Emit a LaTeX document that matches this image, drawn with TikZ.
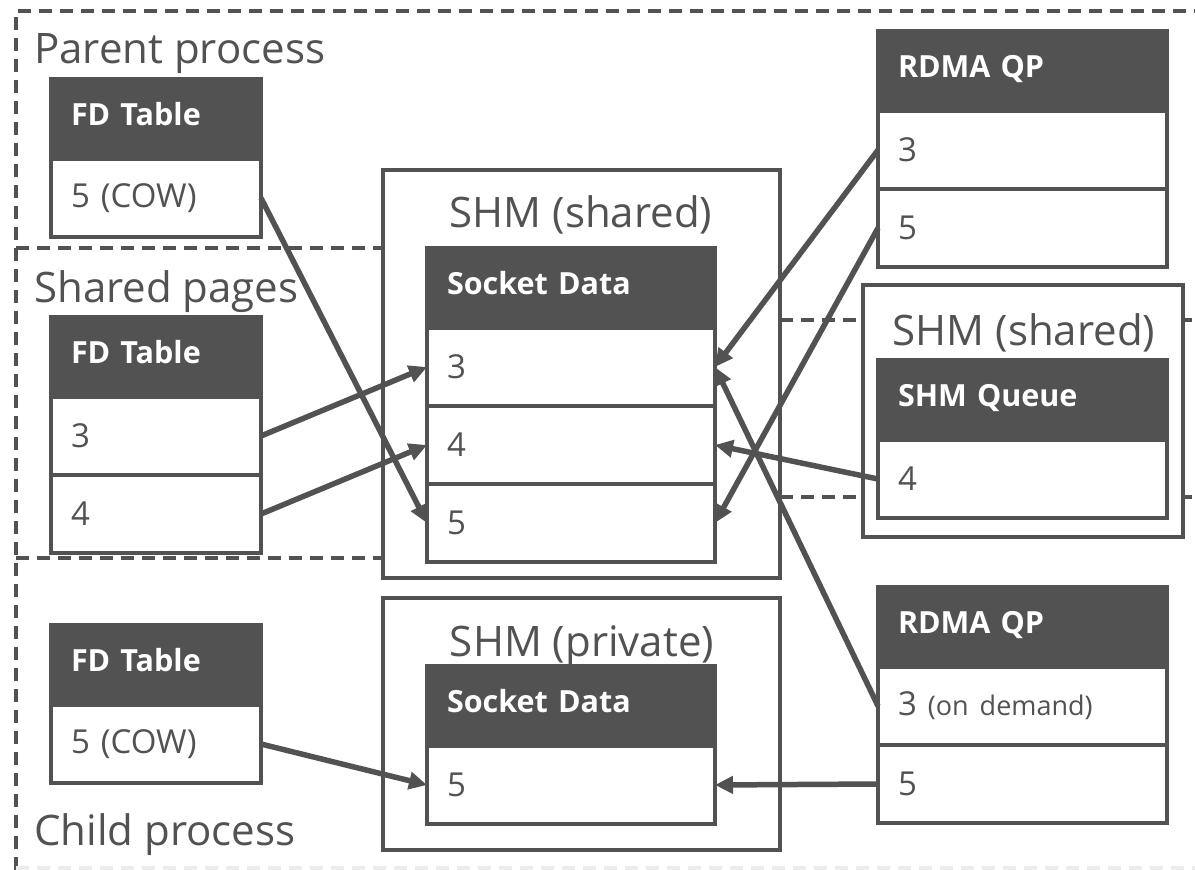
\documentclass[tikz,border=0pt]{standalone}
\usepackage{fontspec}
\setmainfont{Open Sans}
\usetikzlibrary{arrows.meta}

\definecolor{dgray}{HTML}{525252}
\newcommand\titlefont{\fontsize{42}{50}\selectfont}
\newcommand\headfont{\fontsize{30.5}{36}\selectfont\bfseries}
\newcommand\cellfont{\fontsize{33}{38}\selectfont}
\newcommand\demandfont{\fontsize{27}{32}\selectfont}

\begin{document}
\begin{tikzpicture}[x=1pt,y=-1pt]
  \tikzstyle{zone}=[dgray, line width=3.5pt, dash pattern=on 13pt off 8pt]
  \tikzstyle{shm}=[draw=dgray, fill=white, line width=3.5pt, anchor=north west, inner sep=0pt, outer sep=0pt]
  \tikzstyle{head}=[draw=dgray, fill=dgray, text=white, line width=3.5pt, anchor=north west, inner xsep=20pt, inner ysep=0pt, outer sep=0pt, minimum height=80pt, text depth=10pt, font=\headfont, align=left]
  \tikzstyle{cell}=[draw=dgray, fill=white, text=dgray, line width=3.5pt, anchor=north west, inner xsep=20pt, inner ysep=0pt, outer sep=0pt, minimum height=78pt, font=\cellfont, align=left]
  \tikzstyle{narrow}=[text width=170pt]
  \tikzstyle{wide}=[text width=248pt]
  \tikzstyle{wider}=[text width=249pt]
  \tikzstyle{titletext}=[text=dgray, font=\titlefont, inner sep=0pt, anchor=base west]
  \tikzstyle{shmtitle}=[text=dgray, font=\titlefont, inner sep=0pt, anchor=base]
  \tikzstyle{link}=[dgray, line width=5.5pt, -{Triangle[length=18pt,width=17pt]}]

  \useasboundingbox (0,0) rectangle (1195,870);

  % process and page zones
  \draw[zone] (16,870) -- (16,11) -- (1195,11);
  \draw[zone, gray!15] (16,868) -- (1195,868);
  \draw[zone] (16,248) -- (383,248);
  \draw[zone] (16,558) -- (383,558);
  \draw[zone] (780,320) -- (1195,320);
  \draw[zone] (780,497) -- (1195,497);

  \node[shm, minimum width=397pt, minimum height=408pt] (shmA) at (383,170) {};
  \node[shm, minimum width=397pt, minimum height=252pt] (shmB) at (383,598) {};
  \node[shm, minimum width=320pt, minimum height=252pt] (shmC) at (863,285) {};

  \node[titletext] (tparent) at (34,63) {Parent process};
  \node[titletext] (tpages) at (34,302) {Shared pages};
  \node[titletext] (tchild) at (34,845) {Child process};
  \node[shmtitle] (tshmA) at (581,227) {SHM (shared)};
  \node[shmtitle] (tshmB) at (582,656) {SHM (private)};
  \node[shmtitle] (tshmC) at (1024,345) {SHM (shared)};

  % fd tables
  \node[head, narrow] (fdp) at (51,79) {FD Table};
  \node[cell, narrow] (fdp5) at (fdp.south west) {5 (COW)};

  \node[head, narrow] (fds) at (51,317) {FD Table};
  \node[cell, narrow] (fds3) at (fds.south west) {3};
  \node[cell, narrow] (fds4) at (fds3.south west) {4};

  \node[head, narrow] (fdc) at (51,625) {FD Table};
  \node[cell, narrow] (fdc5) at (fdc.south west) {5 (COW)};

  % socket data
  \node[head, wide] (sd) at (427,248) {Socket Data};
  \node[cell, wide] (sd3) at (sd.south west) {3};
  \node[cell, wide] (sd4) at (sd3.south west) {4};
  \node[cell, wide] (sd5) at (sd4.south west) {5};

  \node[head, wide] (sdp) at (427,666) {Socket Data};
  \node[cell, wide] (sdp5) at (sdp.south west) {5};

  % queues
  \node[head, wider] (qpa) at (878,31) {RDMA QP};
  \node[cell, wider] (qpa3) at (qpa.south west) {3};
  \node[cell, wider] (qpa5) at (qpa3.south west) {5};

  \node[head, wider] (shq) at (878,360) {SHM Queue};
  \node[cell, wider] (shq4) at (shq.south west) {4};

  \node[head, wider] (qpb) at (878,587) {RDMA QP};
  \node[cell, wider] (qpb3) at (qpb.south west) {3 {\demandfont(on demand)}};
  \node[cell, wider] (qpb5) at (qpb3.south west) {5};

  \draw[link] (fdp5.east) -- (sd5.west);
  \draw[link] (fds3.east) -- (sd3.west);
  \draw[link] (fds4.east) -- (sd4.west);
  \draw[link] (qpa3.west) -- (sd3.east);
  \draw[link] (qpa5.west) -- (sd5.east);
  \draw[link] (shq4.west) -- (sd4.east);
  \draw[link] (qpb3.west) -- (sd3.east);
  \draw[link] (qpb5.west) -- (sdp5.east);
  \draw[link] (fdc5.east) -- (sdp5.west);
\end{tikzpicture}
\end{document}
